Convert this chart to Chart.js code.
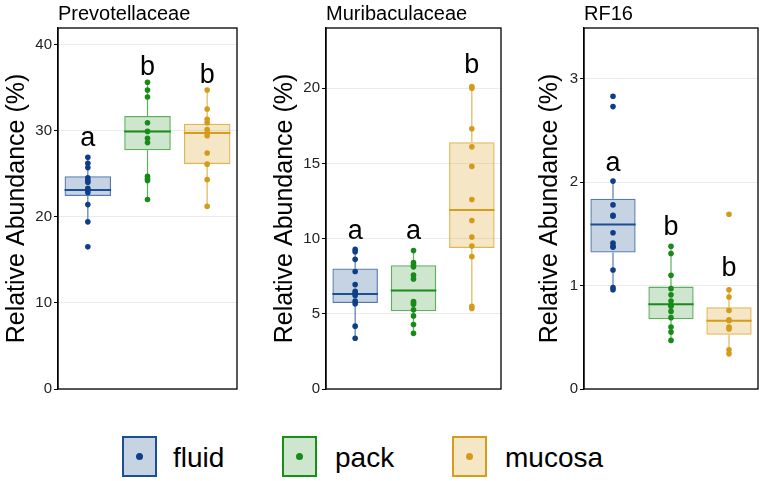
<!DOCTYPE html>
<html>
<head>
<meta charset="utf-8">
<script src="https://cdn.jsdelivr.net/npm/chart.js@4.4.1/dist/chart.umd.min.js"></script>
<style>
  body { margin: 0; background: #fff; width: 765px; height: 481px; position: relative; overflow: hidden;
         font-family: "Liberation Sans", Arial, Helvetica, sans-serif; }
  canvas { position: absolute; top: 0; }
  .key { position: absolute; top: 436px; width: 35px; height: 41px; box-sizing: border-box; border: 2px solid; }
  .key i { position: absolute; left: 50%; top: 50%; width: 7px; height: 7px; margin: -3.5px 0 0 -3.5px; border-radius: 50%; }
  .lab { position: absolute; top: 437px; line-height: 41px; font-size: 28px; color: #000; }
</style>
</head>
<body>
<canvas id="c1" width="242" height="400" style="left:0px"></canvas>
<canvas id="c2" width="238" height="400" style="left:268px"></canvas>
<canvas id="c3" width="230" height="400" style="left:533px"></canvas>

<div class="key" style="left:122px;border-color:#1c4f91;background:rgba(28,79,145,0.25)"><i style="background:#0f3d87"></i></div>
<div class="lab" style="left:173px">fluid</div>
<div class="key" style="left:282px;border-color:#1a8c1a;background:rgba(26,140,26,0.22)"><i style="background:#178a17"></i></div>
<div class="lab" style="left:335px">pack</div>
<div class="key" style="left:452px;border-color:#d69d1a;background:rgba(214,157,26,0.25)"><i style="background:#d49a1a"></i></div>
<div class="lab" style="left:505px">mucosa</div>

<script>
const groups = ['fluid', 'pack', 'mucosa'];

// Prevotellaceae
const prevFluid = [26.9, 26.2, 25.7, 24.5, 24.2, 24.0, 23.3, 23.1, 22.8, 21.4, 19.4, 16.5];
const prevPack = [35.6, 34.7, 33.9, 30.9, 29.9, 29.1, 28.6, 24.7, 24.4, 24.2, 22.0];
const prevMucosa = [34.7, 32.5, 31.3, 30.9, 30.1, 29.7, 29.4, 27.4, 26.1, 24.3, 21.2];
const prevLow = [19.4, 22.0, 21.2];
const prevQ1 = [22.4, 27.7, 26.1];
const prevMed = [23.1, 29.9, 29.7];
const prevQ3 = [24.7, 31.7, 30.8];
const prevHigh = [26.9, 35.6, 34.7];
const prevLetters = ['a', 'b', 'b'];
const prevLetterY = [28.2, 36.5, 35.5];

// Muribaculaceae
const muriFluid = [9.28, 9.13, 8.62, 7.81, 6.94, 6.50, 6.37, 6.22, 5.84, 5.67, 4.18, 3.37];
const muriPack = [9.21, 8.40, 8.25, 8.12, 7.57, 7.31, 5.82, 5.71, 5.63, 5.27, 4.86, 4.29, 3.70];
const muriMucosa = [20.1, 20.0, 17.3, 16.1, 14.8, 12.6, 11.2, 10.1, 9.5, 8.8, 5.5, 5.36];
const muriLow = [3.37, 3.70, 5.36];
const muriQ1 = [5.71, 5.17, 9.37];
const muriMed = [6.32, 6.55, 11.9];
const muriQ3 = [8.01, 8.23, 16.4];
const muriHigh = [9.28, 9.21, 20.1];
const muriLetters = ['a', 'a', 'b'];
const muriLetterY = [10.0, 10.0, 21.0];

// RF16
const rfFluid = [2.83, 2.73, 2.01, 1.78, 1.68, 1.67, 1.51, 1.41, 1.38, 1.37, 1.15, 0.98, 0.96];
const rfPack = [1.38, 1.31, 1.10, 0.97, 0.91, 0.85, 0.81, 0.80, 0.75, 0.69, 0.60, 0.55, 0.47];
const rfMucosa = [1.69, 0.96, 0.89, 0.76, 0.67, 0.66, 0.60, 0.58, 0.38, 0.34];
const rfLow = [0.96, 0.47, 0.34];
const rfQ1 = [1.32, 0.675, 0.525];
const rfMed = [1.59, 0.82, 0.66];
const rfQ3 = [1.84, 0.99, 0.79];
const rfHigh = [2.01, 1.38, 0.96];
const rfLetters = ['a', 'b', 'b'];
const rfLetterY = [2.11, 1.49, 1.09];

const dotCol = ['#0f3d87', '#178a17', '#d49a1a'];
const medCol = ['#1c4f91', '#1a8c1a', '#d69d1a'];
const edgeCol = ['rgba(28,79,145,0.75)', 'rgba(26,140,26,0.7)', 'rgba(214,157,26,0.75)'];
const fillCol = ['rgba(28,79,145,0.25)', 'rgba(26,140,26,0.22)', 'rgba(214,157,26,0.25)'];
const boxFrac = 0.78;

Chart.defaults.font.family = '"Liberation Sans", Arial, Helvetica, sans-serif';

// title, significance letters and panel border
const panelPlugin = {
  id: 'panel',
  afterDatasetsDraw(chart, args, opts) {
    const { ctx, chartArea: a, scales: { x, y } } = chart;
    ctx.save();
    ctx.fillStyle = '#000';
    ctx.font = '27px "Liberation Sans", Arial, sans-serif';
    ctx.textAlign = 'center';
    ctx.textBaseline = 'alphabetic';
    opts.letters.forEach((t, i) => {
      ctx.fillText(t, x.getPixelForValue(i), y.getPixelForValue(opts.letterY[i]));
    });
    ctx.strokeStyle = '#000';
    ctx.lineWidth = 1.3;
    ctx.strokeRect(a.left, a.top, a.right - a.left, a.bottom - a.top);
    ctx.font = '20px "Liberation Sans", Arial, sans-serif';
    ctx.textAlign = 'left';
    ctx.fillText(opts.title, a.left, 20);
    ctx.restore();
  }
};

function makePanel(id, title, series, low, q1, med, q3, high, letters, letterY, yMax, step, axisW) {
  const datasets = [];
  datasets.push({
    type: 'bar',
    data: groups.map((g, i) => ({ x: g, y: [q1[i], q3[i]] })),
    backgroundColor: fillCol,
    borderColor: edgeCol,
    borderWidth: 1.3,
    borderSkipped: false,
    barPercentage: boxFrac,
    categoryPercentage: 1,
    order: 3
  });
  groups.forEach((g, i) => {
    datasets.push({
      type: 'line',
      data: [{ x: g, y: low[i] }, { x: g, y: q1[i] }, { x: g, y: null }, { x: g, y: q3[i] }, { x: g, y: high[i] }],
      borderColor: edgeCol[i],
      borderWidth: 1.2,
      pointRadius: 0,
      spanGaps: false,
      order: 2
    });
  });
  datasets.push({
    type: 'line',
    showLine: false,
    data: groups.map((g, i) => ({ x: g, y: med[i] })),
    pointStyle: 'line',
    pointRadius: c => c.chart.scales.x.width / groups.length * boxFrac / 2,
    pointBorderColor: medCol,
    pointBorderWidth: 2,
    order: 1
  });
  series.forEach((vals, i) => {
    datasets.push({
      type: 'line',
      showLine: false,
      data: vals.map(v => ({ x: groups[i], y: v })),
      pointRadius: 2.8,
      pointBackgroundColor: dotCol[i],
      pointBorderWidth: 0,
      order: 0
    });
  });

  return new Chart(document.getElementById(id), {
    type: 'bar',
    data: { labels: groups, datasets: datasets },
    options: {
      responsive: false,
      animation: false,
      events: [],
      layout: { padding: { left: 0, right: 5, top: 28, bottom: 7 } },
      plugins: {
        legend: { display: false },
        tooltip: { enabled: false },
        panel: { title: title, letters: letters, letterY: letterY }
      },
      scales: {
        x: { type: 'category', labels: groups, offset: true, display: false },
        y: {
          min: 0,
          max: yMax,
          afterFit: s => { s.width = axisW; },
          border: { color: '#000', width: 1.3 },
          grid: { color: '#ebebeb', lineWidth: 1, tickColor: '#000', tickLength: 4 },
          ticks: { stepSize: step, includeBounds: false, padding: 2, color: '#222', font: { size: 15 } },
          title: {
            display: true, text: 'Relative Abundance (%)', color: '#000',
            font: { size: 25 }, padding: { top: 2, bottom: 0 }
          }
        }
      }
    },
    plugins: [panelPlugin]
  });
}

makePanel('c1', 'Prevotellaceae', [prevFluid, prevPack, prevMucosa],
  prevLow, prevQ1, prevMed, prevQ3, prevHigh, prevLetters, prevLetterY, 41.9, 10, 58);
makePanel('c2', 'Muribaculaceae', [muriFluid, muriPack, muriMucosa],
  muriLow, muriQ1, muriMed, muriQ3, muriHigh, muriLetters, muriLetterY, 24, 5, 58);
makePanel('c3', 'RF16', [rfFluid, rfPack, rfMucosa],
  rfLow, rfQ1, rfMed, rfQ3, rfHigh, rfLetters, rfLetterY, 3.49, 1, 51);
</script>
</body>
</html>
